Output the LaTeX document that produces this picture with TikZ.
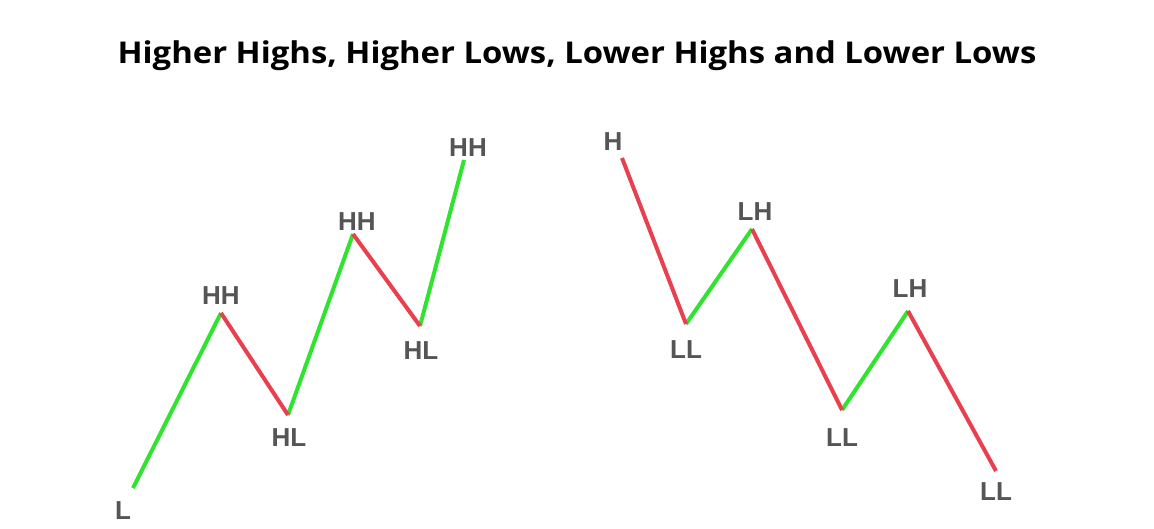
\documentclass[tikz,border=0pt]{standalone}
\usepackage{fontspec}
\setmainfont{Liberation Sans}
\newfontfamily\titlefont{Open Sans}
\definecolor{upgreen}{HTML}{2EE42E}
\definecolor{downred}{HTML}{E8404F}
\definecolor{labelgray}{HTML}{555555}
\tikzstyle{swing}=[font=\fontsize{26}{26}\selectfont\bfseries, text=labelgray, inner sep=0pt]
\tikzstyle{up}=[draw=upgreen, line width=4pt]
\tikzstyle{down}=[draw=downred, line width=4pt]
\begin{document}
\begin{tikzpicture}[x=1pt, y=-1pt]
	\useasboundingbox (0,0) rectangle (1154,528);
	\node[font=\titlefont\fontsize{30}{30}\selectfont\bfseries, anchor=base, inner sep=0pt,
		xscale=1.095, transform shape] (title) at (577,63)
		{Higher Highs, Higher Lows, Lower Highs and Lower Lows};
	% swing points
	\foreach \x/\y/\name in {133/488/a1, 221/313/a2, 288/415/a3, 353/234/a4,
				420/326/a5, 464/160/a6, 622/158/b1, 686/324/b2,
				752/229/b3, 842/410/b4, 908/311/b5, 996/471/b6}
		\coordinate (\name) at (\x,\y);
	\foreach \x/\y/\name/\txt in {123/511/la1/L, 221/296/la2/HH, 289/438/la3/HL,
				357/222/la4/HH, 421/351/la5/HL, 468/148/la6/HH,
				613/142/lb1/H, 686/350/lb2/LL, 755/212/lb3/LH,
				842/438/lb4/LL, 910/289/lb5/LH, 996/492/lb6/LL}
		\node[swing] (\name) at (\x,\y) {\txt};
	\foreach \source/\dest in {a1/a2, a3/a4, a5/a6, b2/b3, b4/b5}
		\path[up] (\source) -- (\dest);
	\foreach \source/\dest in {a2/a3, a4/a5, b1/b2, b3/b4, b5/b6}
		\path[down] (\source) -- (\dest);
\end{tikzpicture}
\end{document}
